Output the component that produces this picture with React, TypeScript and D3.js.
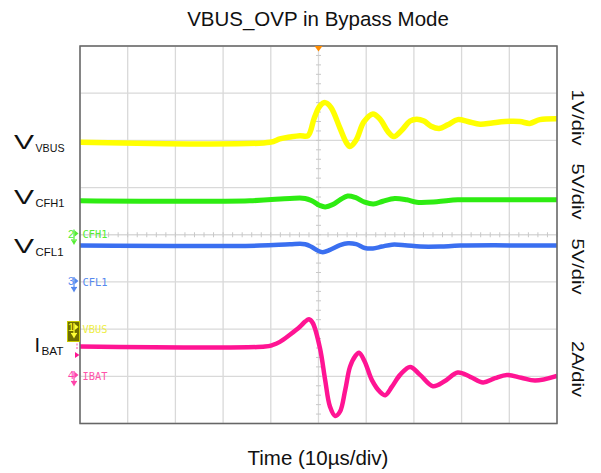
import React from 'react';
import * as d3 from 'd3';

const W = 601, H = 473;
const X0 = 80, X1 = 557, Y0 = 46, Y1 = 423.5;

// time in µs (10 µs/div, 10 div), values in screen divisions (0..8 from bottom)
const vbusT = [0, 39.8, 41.9, 44.0, 46.1, 47.8, 49.1, 50.3, 51.4, 52.6, 54.5, 55.8, 56.6, 57.9, 59.5, 61.4, 62.9, 64.6, 65.8, 67.5, 69.2, 70.6, 72.1, 73.6, 75.3, 77.1, 79.2, 81.3, 83.9, 86.4, 89.1, 92.2, 94.3, 96.4, 100];
const vbusV = [5.96, 5.96, 6.03, 6.07, 6.10, 6.10, 6.47, 6.73, 6.80, 6.70, 6.26, 5.96, 5.87, 6.01, 6.39, 6.56, 6.45, 6.18, 6.08, 6.22, 6.41, 6.45, 6.41, 6.30, 6.25, 6.33, 6.44, 6.40, 6.34, 6.37, 6.40, 6.40, 6.36, 6.44, 6.46];

const cfh1T = [0, 35.6, 44.0, 47.2, 48.6, 50.3, 51.4, 53.0, 54.5, 56.1, 57.7, 59.7, 61.5, 63.5, 66.0, 68.5, 70.6, 74.8, 79.2, 85, 100];
const cfh1V = [4.72, 4.72, 4.77, 4.77, 4.72, 4.62, 4.59, 4.64, 4.74, 4.82, 4.79, 4.69, 4.65, 4.71, 4.77, 4.74, 4.69, 4.70, 4.74, 4.74, 4.74];

const cfl1T = [0, 37.7, 44.0, 47.2, 48.6, 49.9, 50.9, 52.4, 54.5, 56.2, 57.9, 59.7, 61.4, 63.3, 65.4, 68.1, 71.3, 75.5, 79.7, 100];
const cfl1V = [3.77, 3.77, 3.80, 3.80, 3.74, 3.66, 3.63, 3.68, 3.78, 3.82, 3.80, 3.72, 3.71, 3.75, 3.79, 3.78, 3.75, 3.75, 3.77, 3.77];

const ibatT = [0, 38.8, 40.3, 41.9, 44.0, 46.1, 47.2, 48.0, 48.8, 50.3, 51.4, 52.4, 53.5, 54.5, 55.6, 56.6, 57.7, 58.5, 59.7, 61.2, 62.9, 64.0, 65.4, 67.1, 69.2, 71.3, 74.0, 76.5, 79.2, 81.8, 84.5, 87.0, 89.5, 92.5, 95.4, 100];
const ibatV = [1.63, 1.63, 1.66, 1.73, 1.88, 2.05, 2.16, 2.21, 2.13, 1.60, 0.92, 0.36, 0.16, 0.25, 0.71, 1.20, 1.43, 1.50, 1.31, 0.92, 0.67, 0.60, 0.78, 1.03, 1.20, 1.03, 0.79, 0.90, 1.08, 0.99, 0.87, 0.96, 1.03, 0.97, 0.91, 1.01];

const xDivs = d3.range(0, 11);
const yDivs = d3.range(0, 9);
const scaleLabels = ['1V/div', '5V/div', '5V/div', '2A/div'];
const scaleLabelY = [117.5, 191.5, 266.5, 369];

const FONT = 'Liberation Sans, Arial, sans-serif';

function Marker({ y, digit, color, boxed }: { y: number; digit: string; color: string; boxed?: boolean }) {
  return (
    <g>
      {boxed && <rect x={67.5} y={y - 5.5} width={12} height={20} fill="#6e6e00" stroke="#c8c800" strokeWidth={1} />}
      <text x={68} y={y + 4} fontSize={11} fontFamily={FONT} fill={color}>{digit}</text>
      <line x1={74} x2={74} y1={y - 4} y2={y + 6} stroke={color} strokeWidth={1.2} />
      <path d={`M74.5,${y - 3.2} L78.5,${y} L74.5,${y + 3.2} Z`} fill={color} />
      <line x1={71} x2={77} y1={y + 6.5} y2={y + 6.5} stroke={color} strokeWidth={1.2} />
      <path d={`M71.5,${y + 7} L76.5,${y + 7} L74,${y + 11.5} Z`} fill={color} />
    </g>
  );
}

export default function App() {
  const x = d3.scaleLinear().domain([0, 100]).range([X0, X1]);
  const y = d3.scaleLinear().domain([0, 8]).range([Y1, Y0]);
  const line = d3.line<[number, number]>().x(d => x(d[0])).y(d => y(d[1])).curve(d3.curveCatmullRom.alpha(0.5));
  const mk = (t: number[], v: number[]) => line(t.map((tt, i) => [tt, v[i]] as [number, number])) || '';

  const cx = x(50), cy = y(4);
  const minorX = d3.range(0, 51).map(i => x(i * 2));
  const minorY = d3.range(0, 41).map(i => y(i * 0.2));

  return (
    <svg width={W} height={H} style={{ position: 'absolute', left: 0, top: 0, background: '#fff' }}>
      <rect x={0} y={0} width={W} height={H} fill="#fff" />
      <text x={318} y={26} textAnchor="middle" fontSize={20.5} fontFamily={FONT} fill="#111">VBUS_OVP in Bypass Mode</text>

      <defs>
        <clipPath id="plotclip"><rect x={X0} y={Y0} width={X1 - X0} height={Y1 - Y0} /></clipPath>
      </defs>

      {/* grid */}
      <g stroke="#d9d9d9" strokeWidth={1.3}>
        {xDivs.map(d => <line key={'vx' + d} x1={x(d * 10)} x2={x(d * 10)} y1={Y0} y2={Y1} />)}
        {yDivs.map(d => <line key={'hy' + d} x1={X0} x2={X1} y1={y(d)} y2={y(d)} />)}
      </g>
      <g stroke="#c8c8c8" strokeWidth={1}>
        {minorX.map((px, i) => <line key={'mx' + i} x1={px} x2={px} y1={cy - 2.5} y2={cy + 2.5} />)}
        {minorY.map((py, i) => <line key={'my' + i} x1={cx - 2.5} x2={cx + 2.5} y1={py} y2={py} />)}
      </g>

      {/* traces */}
      <g clipPath="url(#plotclip)" fill="none" strokeLinejoin="round">
        <path d={mk(cfl1T, cfl1V)} stroke="#3a6ff0" strokeWidth={4.5} />
        <path d={mk(cfh1T, cfh1V)} stroke="#2eec12" strokeWidth={5} />
        <path d={mk(vbusT, vbusV)} stroke="#ffff00" strokeWidth={5.5} />
        <path d={mk(ibatT, ibatV)} stroke="#ff1493" strokeWidth={4.5} />
      </g>

      <rect x={X0} y={Y0} width={X1 - X0} height={Y1 - Y0} fill="none" stroke="#666" strokeWidth={1.5} />

      {/* trigger marker */}
      <path d={`M${cx - 4},${Y0} L${cx + 4},${Y0} L${cx},${Y0 + 5.5} Z`} fill="#ff8c00" />

      {/* channel markers */}
      <Marker y={233.5} digit="2" color="#55ee33" />
      <Marker y={281} digit="3" color="#5588ee" />
      <Marker y={327} digit="1" color="#ffff33" boxed />
      <Marker y={375} digit="4" color="#ff44aa" />
      <line x1={77} x2={77} y1={343.5} y2={350} stroke="#ff44aa" strokeWidth={1} strokeDasharray="2,1.5" />
      <path d="M75,352 L79.5,355 L75,358 Z" fill="#ff1493" />

      <g fontFamily="DejaVu Sans Mono, monospace" fontSize={11}>
        <text x={82.5} y={238} fill="#55ee33" textLength={25} lengthAdjust="spacingAndGlyphs">CFH1</text>
        <text x={82.5} y={286} fill="#5588ee" textLength={25} lengthAdjust="spacingAndGlyphs">CFL1</text>
        <text x={82.5} y={332.5} fill="#eeee44" textLength={25} lengthAdjust="spacingAndGlyphs">VBUS</text>
        <text x={82.5} y={379.5} fill="#ff55aa" textLength={25} lengthAdjust="spacingAndGlyphs">IBAT</text>
      </g>

      {/* left labels */}
      <g fontFamily={FONT} fill="#111">
        <text x={14} y={148.5} fontSize={20} textLength={20} lengthAdjust="spacingAndGlyphs">V</text>
        <text x={35.5} y={151.5} fontSize={11.5} textLength={29} lengthAdjust="spacingAndGlyphs">VBUS</text>
        <text x={14} y={203.5} fontSize={20} textLength={20} lengthAdjust="spacingAndGlyphs">V</text>
        <text x={35.5} y={206.5} fontSize={11.5} textLength={29} lengthAdjust="spacingAndGlyphs">CFH1</text>
        <text x={14} y={252.5} fontSize={20} textLength={20} lengthAdjust="spacingAndGlyphs">V</text>
        <text x={35.5} y={255.5} fontSize={11.5} textLength={28} lengthAdjust="spacingAndGlyphs">CFL1</text>
        <text x={34.5} y={352} fontSize={20}>I</text>
        <text x={41.5} y={355} fontSize={11.5} textLength={22} lengthAdjust="spacingAndGlyphs">BAT</text>
      </g>

      {/* right scale labels */}
      <g fontFamily={FONT} fill="#111" fontSize={16}>
        {scaleLabels.map((s, i) => (
          <text key={i} transform={`translate(571.5,${scaleLabelY[i]}) rotate(90)`} textAnchor="middle" textLength={56} lengthAdjust="spacingAndGlyphs">{s}</text>
        ))}
      </g>

      <text x={318} y={464.5} textAnchor="middle" fontSize={20.5} fontFamily={FONT} fill="#111">Time (10µs/div)</text>
    </svg>
  );
}
